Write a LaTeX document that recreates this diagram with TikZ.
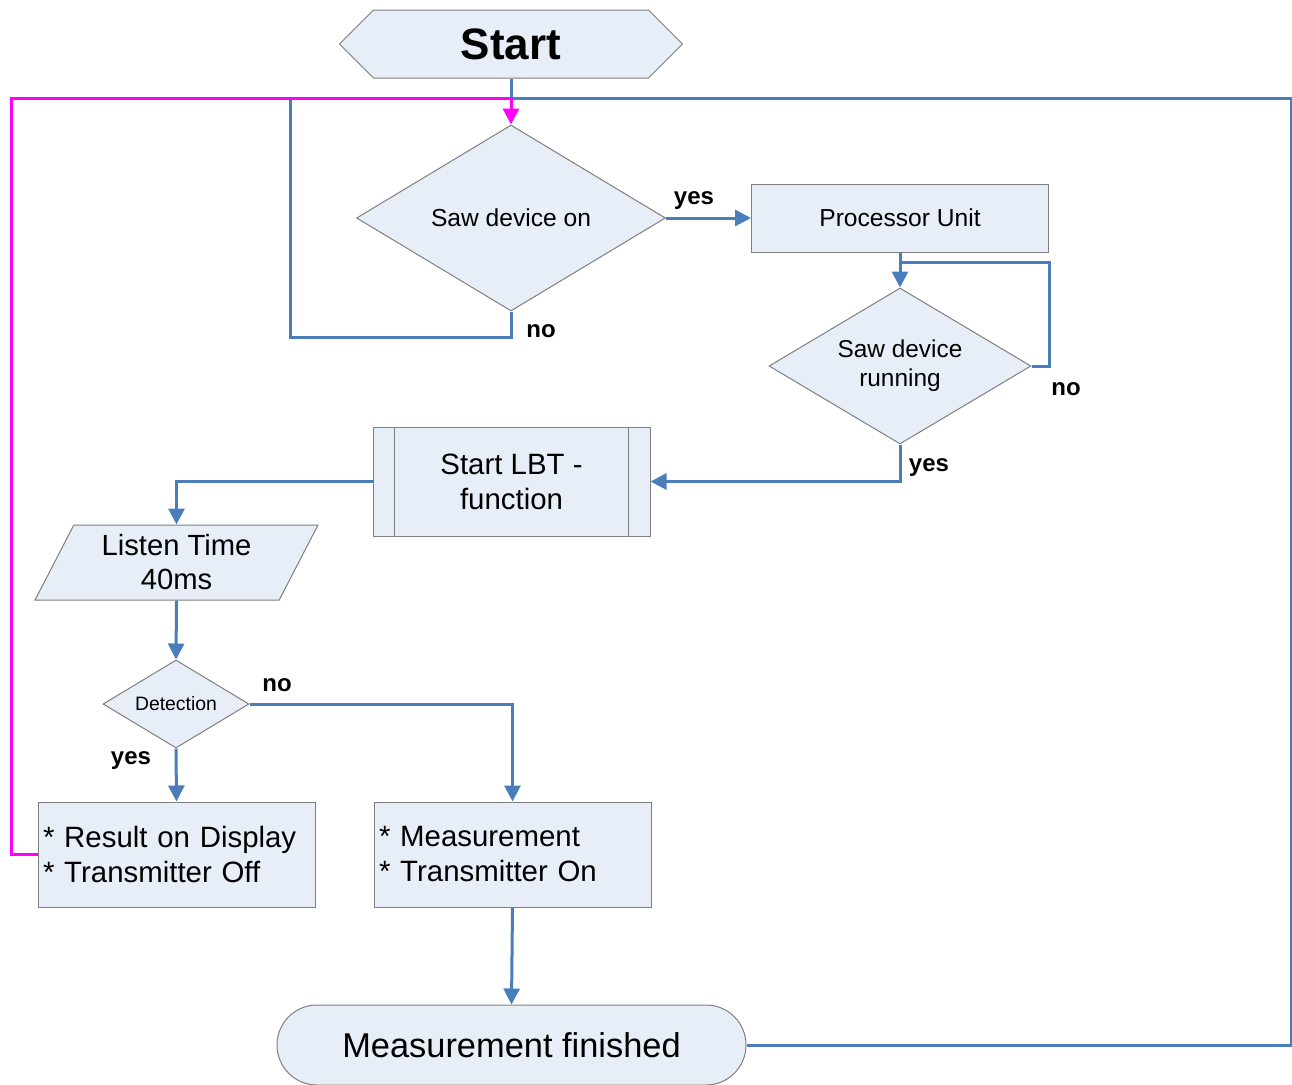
\documentclass[tikz,border=0pt]{standalone}
\usepackage{fontspec}
\setmainfont{Liberation Sans}
\usepackage{tikz}
\usetikzlibrary{positioning, arrows.meta, shapes.geometric, shapes.misc, shapes.symbols}
\definecolor{flowblue}{HTML}{4A7EBB}
\definecolor{boxfill}{HTML}{E8EEF7}
\definecolor{boxgray}{HTML}{7F7F7F}
\definecolor{loopmag}{HTML}{FF00FF}
\tikzset{
        shape line/.style={draw=boxgray, fill=boxfill, line width=0.5pt, inner sep=0pt}, % border and fill of every symbol
        flow box/.style={
		shape line,
		rectangle,
		minimum width={#1},
		minimum height={34pt},
	  },
        decision/.style={shape line, diamond, aspect=1.66},
        flow line/.style={draw=flowblue, line width=1.5pt},
        flow arrow/.style={flow line, -{Triangle[length=8pt, width=8pt]}},
        back arrow/.style={draw=loopmag, line width=1.5pt, -{Triangle[length=8pt, width=8pt]}},
        answer/.style={font=\bfseries\fontsize{12}{14}\selectfont},
    }

\begin{document}
\begin{tikzpicture}[x=0.5pt, y=-0.5pt]
    \useasboundingbox (0,0) rectangle (1292,1084);
    % symbols
    \node [shape line, signal, signal to=west and east, signal pointer angle=90,
           minimum width=171.5pt, minimum height=34pt,
           font=\bfseries\fontsize{22}{26}\selectfont] (start) at (511,44) {Start};
    \node [decision, minimum width=154.5pt, minimum height=93pt,
           font=\fontsize{12.3}{14.5}\selectfont] (sdon) at (511,218) {Saw device on};
    \node [flow box=148.5pt, font=\fontsize{12.3}{14.5}\selectfont] (pu) at (900,218) {Processor Unit};
    \node [decision, aspect=1.68, minimum width=131pt, minimum height=78pt, align=center,
           font=\fontsize{12.2}{14.5}\selectfont] (sdrun) at (900,366) {Saw device\\running};
    \node [flow box=138.5pt, minimum height=54.5pt, align=center,
           font=\fontsize{14.7}{17.5}\selectfont] (lbt) at (511.5,481.5) {Start LBT -\\function};
    \draw [boxgray, line width=0.5pt] ([xshift=11pt]lbt.north west) -- ([xshift=11pt]lbt.south west)
          ([xshift=-11pt]lbt.north east) -- ([xshift=-11pt]lbt.south east);
    \node [shape line, trapezium, trapezium left angle=55, trapezium right angle=125,
           trapezium stretches body=true, minimum width=141.5pt, minimum height=37.5pt,
           align=center, font=\fontsize{14.6}{17}\selectfont] (listen) at (176.5,562.5) {Listen Time\\40ms};
    \node [decision, minimum width=73pt, minimum height=44pt,
           font=\fontsize{9.7}{11}\selectfont] (detect) at (176,704) {Detection};
    \node [flow box=138.5pt, minimum height=52.5pt, text width=133.5pt, align=left,
           font=\fontsize{14.7}{17.5}\selectfont] (result) at (176.5,854.5) {* Result on Display\\{}* Transmitter Off};
    \node [flow box=138.5pt, minimum height=52.5pt, text width=133.5pt, align=left,
           font=\fontsize{14.7}{17.5}\selectfont] (meas) at (512.5,854.5) {* Measurement\\{}* Transmitter On};
    \node [shape line, rounded rectangle, minimum width=234.5pt, minimum height=40pt,
           font=\fontsize{17.2}{20}\selectfont] (fin) at (511.5,1045) {Measurement finished};

    % junctions
    \coordinate (jn) at (511,98);
    \coordinate (lft) at (11,98);

    % connectors
    \draw [flow line] (start.south) -- (jn);
    \draw [flow line] (sdon.south) -- ++(0,26) -| (290,98);
    \draw [flow line] (fin.east) -| (1291,98) -- (jn);
    \draw [back arrow] (result.west) -| (lft) -- (jn) -- (sdon.north);
    \draw [flow arrow] (sdon.east) -- (pu.west);
    \draw [flow arrow] (pu.south) -- (sdrun.north);
    \draw [flow line] (sdrun.east) -| (1049,262) -- (900,262);
    \draw [flow arrow] (sdrun.south) |- (lbt.east);
    \draw [flow arrow] (lbt.west) -| (listen.north);
    \draw [flow arrow] (listen.south) -- (detect.north);
    \draw [flow arrow] (detect.south) -- (result.north);
    \draw [flow arrow] (detect.east) -| (meas.north);
    \draw [flow arrow] (meas.south) -- (fin.north);

    % answers
    \node [answer] (a1) at (694,201) {yes};
    \node [answer] (a2) at (541,331) {no};
    \node [answer] (a3) at (1066,389) {no};
    \node [answer] (a4) at (929,468) {yes};
    \node [answer] (a5) at (277,685) {no};
    \node [answer] (a6) at (131,761) {yes};
\end{tikzpicture}
\end{document}
